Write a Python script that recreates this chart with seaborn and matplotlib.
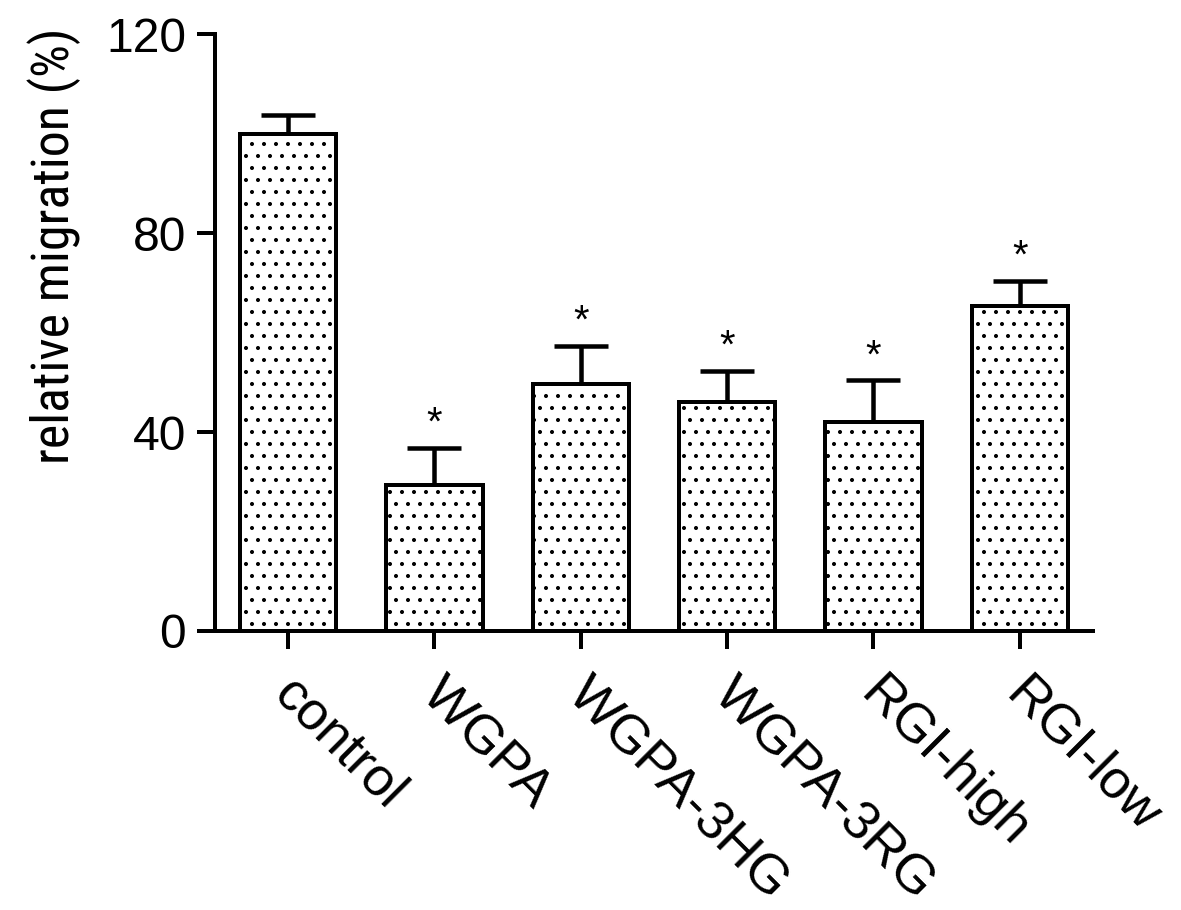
import numpy as np
import pandas as pd
import matplotlib
matplotlib.use("Agg")
import matplotlib.pyplot as plt
from matplotlib import font_manager
from matplotlib.transforms import ScaledTranslation
import seaborn as sns

groups = ["control", "WGPA", "WGPA-3HG", "WGPA-3RG", "RGI-high", "RGI-low"]
means = [100.0, 29.3, 49.6, 46.1, 42.0, 65.3]
errors = [3.7, 7.5, 7.7, 6.2, 8.4, 5.1]
significant = [False, True, True, True, True, True]
yticks = [0, 40, 80, 120]

sns.set_style("ticks")
plt.rcParams["font.family"] = ["Liberation Sans", "DejaVu Sans"]
plt.rcParams["hatch.linewidth"] = 1.6
for k in ["text.color", "axes.labelcolor", "xtick.color", "ytick.color",
          "axes.edgecolor"]:
    plt.rcParams[k] = "black"

# narrow sans font for the condensed-looking y-axis label
cands = [f for f in font_manager.fontManager.ttflist
         if f.fname.split("/")[-1] == "RobotoCondensed[wght].ttf"]
if not cands:
    cands = [f for f in font_manager.fontManager.ttflist
             if f.fname.split("/")[-1].startswith("RobotoCondensed")
             and f.style == "normal"]
if cands:
    ylabel_fp = font_manager.FontProperties(fname=cands[0].fname, size=52)
else:
    ylabel_fp = font_manager.FontProperties(family=["Liberation Sans"], size=47)

DPI = 72
fig = plt.figure(figsize=(1181 / DPI, 910 / DPI), dpi=DPI)
ax = fig.add_axes([0.182, 0.3066, 0.7435, 0.656])

df = pd.DataFrame({"group": groups, "mean": means})
sns.barplot(data=df, x="group", y="mean", ax=ax, color="white",
            edgecolor="black", linewidth=4, width=0.66, hatch=".",
            errorbar=None, zorder=2)
for p in ax.patches:
    p.set_facecolor("white")
    p.set_edgecolor("black")

xs = np.arange(len(groups))
ax.errorbar(xs, means, yerr=[np.zeros(len(errors)), errors], fmt="none",
            ecolor="black", elinewidth=4.5, capsize=27, capthick=4.5, zorder=1)

for x, m, e, s in zip(xs, means, errors, significant):
    if s:
        ax.annotate("*", (x, m + e), xytext=(0, 5), textcoords="offset points",
                    ha="center", va="bottom", fontsize=40)

ax.set_xlim(-0.5, len(groups) - 0.5)
ax.set_ylim(0, 120)
ax.set_yticks(yticks)
ax.set_yticklabels([str(t) for t in yticks], fontsize=48)
ax.set_xticks(xs)
ax.set_xticklabels(groups, fontsize=54, rotation=-45, ha="left",
                   rotation_mode="anchor")
ax.set_xlabel("")
ax.set_ylabel("relative migration (%)", fontproperties=ylabel_fp)
ax.yaxis.set_label_coords(-0.153, 0.645)

for side in ["top", "right"]:
    ax.spines[side].set_visible(False)
for side in ["left", "bottom"]:
    ax.spines[side].set_linewidth(4)
ax.tick_params(axis="both", width=4, length=18, color="black")
ax.tick_params(axis="y", pad=11)
ax.tick_params(axis="x", pad=20)

shift = ScaledTranslation(12 / 72, 0, fig.dpi_scale_trans)
for lab in ax.get_xticklabels():
    lab.set_transform(lab.get_transform() + shift)

fig.savefig("out.png", dpi=DPI, facecolor="white")
